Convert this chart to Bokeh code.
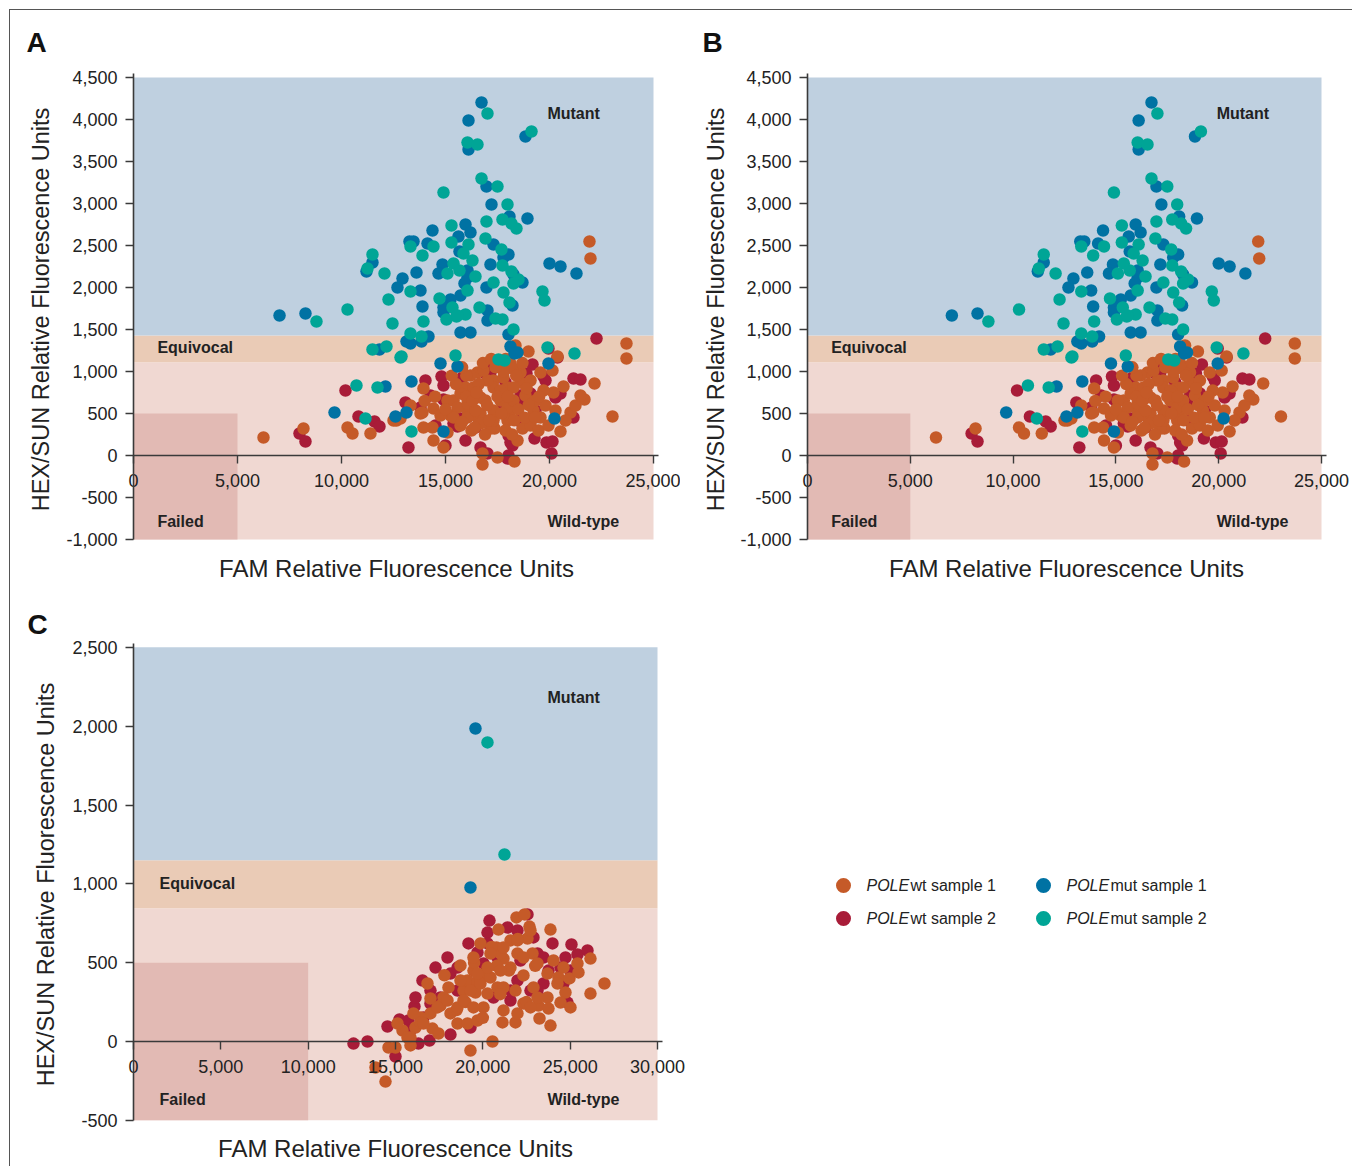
import math
from bokeh.plotting import figure
from bokeh.models import Range1d, FixedTicker, NumeralTickFormatter, Label
from bokeh.layouts import row, column
from bokeh.embed import file_html
from bokeh.resources import INLINE
from bokeh.core.properties import value

FONT = "Liberation Sans"

# ---------------- data: panels A and B (same run) ----------------
WT1_FAM_AB = [6250, 8173, 10289, 10529, 11394, 12644, 23702, 23702, 21923, 21971, 18990, 20385, 22164, 21683,
              23029, 20673, 20192, 19712, 13942, 16538, 18125, 18365, 20529, 21010, 14423, 13798, 14375, 14423,
              14904, 16250, 17356, 18702, 18462, 16779, 16779, 17500, 18317, 15385, 15962, 17308, 17981, 18606,
              16923, 17644, 16058, 18125, 19231, 19567, 16538, 17308, 15240, 13317, 13894, 13942, 15096, 17163,
              15096, 15577, 16058, 16683, 17308, 17788, 18221, 15385, 16058, 16683, 17308, 17981, 16683, 17308,
              17981, 15721, 16346, 17019, 17644, 18269, 18269, 12837, 12500, 20144, 19567, 18846, 19327, 19808,
              20288, 16202, 16827, 17644, 18606, 19087, 14760, 15721, 16442, 17885, 19087, 19471, 19952, 20769,
              21250, 21490, 15500, 16000, 16600, 17000, 17500, 18000, 18500, 18800, 16300, 17800, 16800, 17200,
              18400, 19000, 15000, 14500, 17400, 16000, 15800, 16900, 18200, 19300, 14000, 15300, 16500, 17700,
              18900, 17100, 16400, 19500, 15800, 18300, 17900, 18700]
WT1_HEX_AB = [214, 321, 333, 262, 262, 417, 1333, 1155, 2548, 2345, 1238, 1179, 857, 667,
              464, 821, 750, 774, 798, 988, 1095, 1310, 286, 512, 560, 500, 333, 179,
              95, 298, 321, 321, 179, 24, -107, -24, -71, 655, 810, 893, 810, 869,
              655, 655, 536, 536, 536, 452, 452, 452, 476, 595, 512, 333, 274, 321,
              655, 571, 619, 690, 810, 929, 1036, 452, 452, 500, 536, 571, 381, 417,
              417, 738, 810, 893, 774, 810, 655, 440, 417, 1012, 988, 714, 655, 595,
              536, 952, 1012, 1048, 988, 893, 476, 357, 536, 298, 357, 298, 357, 417,
              595, 714, 850, 700, 850, 600, 700, 700, 550, 450, 650, 1000, 1100, 1150,
              950, 600, 550, 700, 1050, 950, 400, 250, 250, 450, 650, 950, 750, 500,
              800, 420, 330, 700, 1050, 420, 1150, 1100]

WT2_FAM_AB = [10192, 10817, 11587, 11827, 7981, 8269, 22260, 19952, 20385, 19183, 17019, 16923, 18894, 14038,
              14808, 14904, 15817, 21154, 21490, 19712, 13077, 13798, 14904, 15385, 18510, 19087, 20288, 21154,
              13221, 15000, 16683, 17019, 18029, 18221, 19279, 19856, 20144, 20096, 18029, 16442, 17260, 17981,
              18510, 17163, 14519, 15577, 15721, 18125, 16202, 18606, 17644, 19327, 15962, 19808, 20529, 17885,
              14279]
WT2_HEX_AB = [774, 464, 405, 345, 262, 167, 1393, 1274, 1167, 1083, 1036, 976, 976, 893,
              940, 833, 929, 917, 905, 940, 631, 571, 667, 381, 607, 738, 690, 452,
              95, 119, 95, 24, 238, 119, 202, 155, 167, 24, 0, 333, 333, -36,
              417, 988, 357, 345, 440, 155, 774, 714, 536, 536, 179, 893, 738, 869,
              714]

MUT1_FAM_AB = [16731, 16106, 16106, 18846, 16971, 17212, 18077, 18942, 15962, 16202, 17308, 18029, 17788, 17163,
               20000, 20529, 21298, 16058, 16058, 15913, 18269, 18702, 16971, 15721, 18221, 17019, 17019, 16202,
               15721, 18029, 18125, 14375, 15625, 13269, 13462, 14135, 11490, 11202, 13606, 12933, 12692, 13798,
               14856, 14664, 15673, 15240, 14904, 14904, 13894, 14183, 13125, 13317, 11827, 7020, 8269, 12115,
               9664, 12596, 13846, 18462, 14760, 15577, 19952, 13365, 13125, 14904, 20240, 18317]
MUT1_HEX_AB = [4202, 3988, 3643, 3798, 3202, 2988, 2845, 2821, 2750, 2655, 2512, 2393, 2357, 2274,
               2286, 2250, 2167, 2202, 2119, 2048, 2155, 2060, 2000, 1905, 1786, 1726, 1607, 1464,
               1464, 1440, 1298, 2679, 2607, 2548, 2548, 2524, 2298, 2191, 2179, 2107, 2000, 1964,
               2274, 2167, 2429, 1857, 1762, 1702, 1774, 1417, 1357, 1333, 1262, 1667, 1690, 821,
               512, 464, 1357, 1226, 1095, 1060, 1095, 881, 512, 286, 440, 1214]

MUT2_FAM_AB = [17019, 19135, 16058, 16538, 16731, 17500, 14904, 17981, 16971, 17740, 18173, 18413, 16923, 17692,
               16106, 15865, 16298, 17740, 18173, 16442, 18510, 18269, 17308, 16058, 17788, 18077, 19663, 19760,
               16634, 15962, 17404, 17740, 18269, 19904, 15288, 15288, 11490, 11250, 12067, 13894, 13317, 14423,
               15096, 15385, 15673, 12260, 13317, 14712, 15336, 15529, 15048, 10289, 12452, 13942, 13317, 13846,
               12163, 11490, 8798, 12837, 10721, 11731, 11154, 15577, 15481, 17548, 17837, 21202, 13365, 12885]
MUT2_HEX_AB = [4071, 3857, 3726, 3702, 3298, 3202, 3131, 2988, 2786, 2810, 2762, 2702, 2583, 2452,
               2512, 2405, 2321, 2262, 2191, 2131, 2095, 2048, 2060, 1964, 1940, 1821, 1952, 1845,
               1762, 1679, 1631, 1619, 1500, 1286, 2738, 2536, 2393, 2226, 2167, 2381, 2488, 2488,
               2167, 2286, 2202, 1857, 1952, 1869, 1762, 1655, 1619, 1738, 1571, 1595, 1452, 1417,
               1298, 1262, 1595, 1167, 833, 810, 440, 1667, 1190, 1143, 1131, 1214, 286, 1179]

# ---------------- data: panel C ----------------
WT1_FAM_C = [21927, 22385, 20896, 22671, 23873, 19866, 21583, 22557, 20782, 21984, 22843, 18721, 19465, 20267,
             21183, 21583, 22328, 22900, 24045, 24331, 24961, 25476, 26163, 26965, 26163, 24732, 24446, 25018,
             23702, 23186, 23759, 23244, 23873, 21870, 21125, 22328, 21870, 20839, 20267, 19580, 18893, 19122,
             18034, 17748, 17576, 18148, 18549, 19122, 19694, 20038, 17003, 17118, 17461, 16431, 16145, 15400,
             15858, 15858, 16431, 14599, 15000, 13855, 14427, 19293, 20553, 16832, 18721, 19694, 21183,
             19000, 20000, 21000, 22000, 20500, 21500, 23000, 18500, 20000, 22500, 19500, 21000, 17800, 20800,
             17003, 17404, 17977, 18549, 18893, 19465, 19293, 19866, 20438, 21011, 20267, 19694, 19465, 20438,
             21183, 21984, 22728, 22328, 23129, 23702, 24618, 25419, 24274, 23129, 22728, 21984, 21183, 16030,
             16603, 15114, 15687]
WT1_HEX_C = [787, 806, 710, 729, 710, 622, 641, 653, 596, 558, 558, 482, 450, 419,
             526, 469, 419, 343, 514, 406, 400, 438, 526, 368, 304, 311, 247, 216,
             279, 228, 209, 146, 101, 121, 121, 241, 323, 343, 304, 311, 323, 387,
             343, 279, 228, 178, 114, 114, 133, 216, 178, 82, 51, 152, 89, 70,
             25, -25, 121, -38, -38, -165, -254, -57, 0, 368, 387, 374, 343,
             250, 420, 560, 650, 600, 450, 480, 200, 150, 250, 500, 300, 420, 480,
             273, 216, 260, 216, 260, 216, 323, 368, 406, 450, 469, 431, 533, 558,
             596, 641, 704, 533, 495, 431, 469, 495, 368, 279, 216, 178, 197, 178,
             114, 114, 25]

WT2_FAM_C = [22557, 20381, 20267, 19179, 19694, 17290, 18148, 16545, 16087, 14542, 15229, 15744, 12595, 13397,
             15000, 16316, 16946, 17003, 18148, 19293, 21412, 22900, 23988, 25076, 25419, 25992, 24732, 23129,
             23759, 25018, 24618, 24847, 23473, 22728, 21583, 20610, 19293, 18549, 17576, 16603, 20839, 20038,
             21984, 15858, 22156, 20267, 21984, 23473, 24446, 18549, 17003, 21583, 23129, 17977, 16145]
WT2_HEX_C = [806, 767, 691, 622, 565, 469, 431, 387, 222, 95, 140, 133, -13, 0,
             -95, -13, 6, 241, 44, 89, 723, 660, 622, 615, 552, 577, 533, 558,
             450, 450, 368, 247, 368, 323, 260, 279, 368, 323, 279, 152, 533, 495,
             387, 70, 514, 622, 704, 533, 469, 469, 323, 323, 323, 533, 279]

MUT1_FAM_C = [19580, 19293]
MUT1_HEX_C = [1985, 977]
MUT2_FAM_C = [20267, 21240]
MUT2_HEX_C = [1897, 1186]

# ---------------- axes / zones ----------------
X_TICKS_AB = [0, 5000, 10000, 15000, 20000, 25000]
Y_TICKS_AB = [-1000, -500, 0, 500, 1000, 1500, 2000, 2500, 3000, 3500, 4000, 4500]
X_TICKS_C = [0, 5000, 10000, 15000, 20000, 25000, 30000]
Y_TICKS_C = [-500, 0, 500, 1000, 1500, 2000, 2500]

ZONES_AB = dict(x_max=25000, y_min=-1000, y_max=4500, eq_lo=1110, eq_hi=1430, fail_x=5000, fail_y=500)
ZONES_C = dict(x_max=30000, y_min=-500, y_max=2500, eq_lo=845, eq_hi=1150, fail_x=10000, fail_y=500)

SERIES_NAMES = ["POLEwt sample 1", "POLEwt sample 2", "POLEmut sample 1", "POLEmut sample 2"]
X_TITLE = "FAM Relative Fluorescence Units"
Y_TITLE = "HEX/SUN Relative Fluorescence Units"

C_WT1 = "#C55A28"
C_WT2 = "#A81C38"
C_MUT1 = "#0072A3"
C_MUT2 = "#00A596"
BG_MUT = "#BFD0E0"
BG_EQ = "#EACBB6"
BG_WT = "#F0D8D2"
BG_FAIL = "#E2BAB4"
INK = "#222222"
AXIS = "#3a3a3a"


def make_panel(letter, z, xticks, yticks, series, label_pos, geo):
    # geo: canvas size, pixel position of the origin, pixels per data unit, text anchors (canvas px)
    W, H = geo["w"], geo["h"]
    ox, oy = geo["ox"], geo["oy"]
    kx, ky = geo["kx"], geo["ky"]
    fx = lambda px: (px - ox) / kx
    fy = lambda py: (oy - py) / ky
    p = figure(width=W, height=H, x_range=Range1d(fx(0), fx(W)), y_range=Range1d(fy(H), fy(0)),
               output_backend="svg", toolbar_location=None, min_border=0)
    p.grid.visible = False
    p.outline_line_color = None
    p.background_fill_color = "white"
    p.border_fill_color = "white"

    # zones
    p.quad(left=0, right=z["x_max"], bottom=z["y_min"], top=z["eq_lo"], color=BG_WT, line_color=None)
    p.quad(left=0, right=z["x_max"], bottom=z["eq_lo"], top=z["eq_hi"], color=BG_EQ, line_color=None)
    p.quad(left=0, right=z["x_max"], bottom=z["eq_hi"], top=z["y_max"], color=BG_MUT, line_color=None)
    p.quad(left=0, right=z["fail_x"], bottom=z["y_min"], top=z["fail_y"], color=BG_FAIL, line_color=None)

    # points
    for (xs, ys), col in zip(series, [C_WT2, C_WT1, C_MUT1, C_MUT2]):
        p.scatter(xs, ys, size=12.5, color=col, line_color=None)

    # zone labels
    for txt, (lx, ly) in label_pos.items():
        p.add_layout(Label(x=lx, y=ly, text=txt, text_font=FONT, text_font_size="16px",
                           text_font_style="bold", text_color=INK, text_align="left",
                           text_baseline="middle"))

    # axes, both crossing at 0
    ya, xa = p.yaxis[0], p.xaxis[0]
    ya.ticker = FixedTicker(ticks=yticks)
    xa.ticker = FixedTicker(ticks=xticks)
    ya.fixed_location = 0
    xa.fixed_location = 0
    ya.bounds = (z["y_min"], z["y_max"] + 4 / ky)
    xa.bounds = (0, z["x_max"] + 5 / kx)
    for ax in (ya, xa):
        ax.formatter = NumeralTickFormatter(format="0,0")
        ax.axis_line_color = AXIS
        ax.axis_line_width = 1.6
        ax.major_tick_line_color = AXIS
        ax.major_tick_line_width = 1.4
        ax.major_tick_in = 0
        ax.major_tick_out = 8
        ax.minor_tick_in = 0
        ax.minor_tick_out = 0
        ax.major_label_text_font = FONT
        ax.major_label_text_font_size = "18px"
        ax.major_label_text_color = INK
        ax.axis_label = None
    ya.major_label_standoff = 8
    xa.major_label_standoff = 10

    # axis titles and panel letter
    p.text([fx(geo["xt"][0])], [fy(geo["xt"][1])], text=[X_TITLE], text_font=value(FONT),
           text_font_size="24px", text_color=INK, text_align="center", text_baseline="middle")
    p.text([fx(geo["yt"][0])], [fy(geo["yt"][1])], text=[Y_TITLE], text_font=value(FONT),
           text_font_size="23.5px", text_color=INK, text_align="center", text_baseline="middle",
           angle=math.pi / 2)
    p.text([fx(geo["lt"][0])], [fy(geo["lt"][1])], text=[letter], text_font=value(FONT),
           text_font_size="28px", text_font_style="bold", text_color="#111111",
           text_align="center", text_baseline="middle")
    return p


series_ab = [(WT2_FAM_AB, WT2_HEX_AB), (WT1_FAM_AB, WT1_HEX_AB),
             (MUT1_FAM_AB, MUT1_HEX_AB), (MUT2_FAM_AB, MUT2_HEX_AB)]
series_c = [(WT2_FAM_C, WT2_HEX_C), (WT1_FAM_C, WT1_HEX_C),
            (MUT1_FAM_C, MUT1_HEX_C), (MUT2_FAM_C, MUT2_HEX_C)]

labels_ab = {"Mutant": (19900, 4070), "Equivocal": (1150, 1290), "Failed": (1150, -790), "Wild-type": (19900, -790)}
labels_c = {"Mutant": (23700, 2180), "Equivocal": (1490, 1000), "Failed": (1490, -365), "Wild-type": (23700, -365)}

geo_a = dict(w=670, h=585, ox=123, oy=445, kx=520 / 25000, ky=462 / 5500,
             xt=(386, 558), yt=(30, 299), lt=(26, 32))
geo_b = dict(w=672, h=585, ox=127, oy=445, kx=514 / 25000, ky=462 / 5500,
             xt=(386, 558), yt=(35, 299), lt=(32, 32))
geo_c = dict(w=690, h=571, ox=123, oy=446, kx=524 / 30000, ky=473 / 3000,
             xt=(385, 553), yt=(35, 289), lt=(27, 29))

pA = make_panel("A", ZONES_AB, X_TICKS_AB, Y_TICKS_AB, series_ab, labels_ab, geo_a)
pB = make_panel("B", ZONES_AB, X_TICKS_AB, Y_TICKS_AB, series_ab, labels_ab, geo_b)
pC = make_panel("C", ZONES_C, X_TICKS_C, Y_TICKS_C, series_c, labels_c, geo_c)

# legend panel (page pixel coordinates)
pL = figure(width=652, height=571, x_range=Range1d(700, 1352), y_range=Range1d(1166, 595),
            output_backend="svg", toolbar_location=None, min_border=0)
pL.axis.visible = False
pL.grid.visible = False
pL.outline_line_color = None
leg_cols = [C_WT1, C_WT2, C_MUT1, C_MUT2]
leg_x = [843, 843, 1043, 1043]
leg_y = [885, 918, 885, 918]
pL.scatter(leg_x, leg_y, size=15, color=leg_cols, line_color=None)
for name, lx, ly in zip(SERIES_NAMES, leg_x, leg_y):
    gene, rest = name[:4], name[4:]
    pL.text([lx + 23], [ly], text=[gene], text_font=value(FONT), text_font_size="16px",
            text_font_style="italic", text_color=INK, text_baseline="middle", text_align="left")
    pL.text([lx + 23 + 44], [ly], text=[rest], text_font=value(FONT),
            text_font_size="16px", text_color=INK, text_baseline="middle", text_align="left")

root = column(row(pA, pB), row(pC, pL),
              styles={"margin-left": "9px", "margin-top": "9px",
                      "border-left": "1px solid #555", "border-top": "1px solid #555"})

open("out.html", "w").write(file_html(root, INLINE))
